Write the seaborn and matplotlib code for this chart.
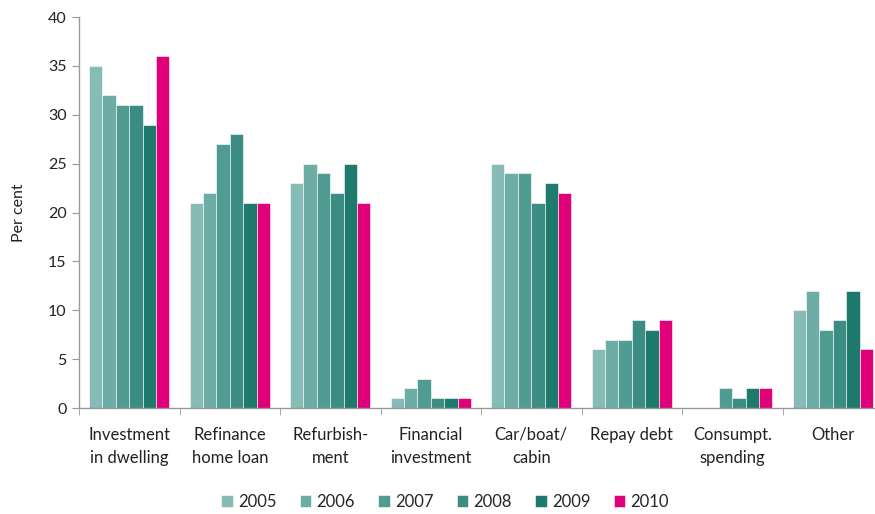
import matplotlib
matplotlib.use("Agg")
import matplotlib.pyplot as plt
import seaborn as sns
import pandas as pd
import numpy as np

categories = ["Investment\nin dwelling", "Refinance\nhome loan", "Refurbish-\nment",
              "Financial\ninvestment", "Car/boat/\ncabin", "Repay debt",
              "Consumpt.\nspending", "Other"]
years = ["2005", "2006", "2007", "2008", "2009", "2010"]
v2005 = [35, 21, 23, 1, 25, 6, 0, 10]
v2006 = [32, 22, 25, 2, 24, 7, 0, 12]
v2007 = [31, 27, 24, 3, 24, 7, 2, 8]
v2008 = [31, 28, 22, 1, 21, 9, 1, 9]
v2009 = [29, 21, 25, 1, 23, 8, 2, 12]
v2010 = [36, 21, 21, 1, 22, 9, 2, 6]
colors = ["#86bcb5", "#6eada5", "#509c93", "#3b8c83", "#1e7a6d", "#e0007a"]

series = [v2005, v2006, v2007, v2008, v2009, v2010]
rows = []
for y, vals in zip(years, series):
    for c, v in zip(categories, vals):
        rows.append({"category": c, "year": y, "value": v})
df = pd.DataFrame(rows)

sns.set_style("white")
plt.rcParams["font.family"] = ["Lato", "DejaVu Sans"]

fig = plt.figure(figsize=(8.75, 5.14), dpi=100)
ax = fig.add_axes([79/875, 106/514, 804/875, 391/514])
sns.barplot(data=df, x="category", y="value", hue="year", order=categories,
            hue_order=years, palette=colors, width=0.8, gap=0, saturation=1,
            edgecolor="#ffffff", linewidth=0.4, ax=ax, legend=True)

ax.set_xlim(-0.5, 7.5)
ax.set_ylim(0, 40)
ax.set_yticks(range(0, 41, 5))
ax.set_xlabel("")
ax.set_ylabel("Per cent", fontsize=11.5, color="#222222")
ax.yaxis.set_label_coords(-0.066, 0.5)
for s in ["top", "right"]:
    ax.spines[s].set_visible(False)
for s in ["left", "bottom"]:
    ax.spines[s].set_color("#999999")
    ax.spines[s].set_linewidth(1)
ax.tick_params(axis="y", which="major", left=True, length=5, color="#999999",
               labelsize=11.5, labelcolor="#222222", pad=4)
ax.tick_params(axis="x", which="major", bottom=False, labelsize=12, labelcolor="#222222", pad=10)
for t in ax.get_xticklabels():
    t.set_linespacing(1.55)
ax.set_xticks(np.arange(-0.5, 8.0, 1.0), minor=True)
ax.tick_params(axis="x", which="minor", bottom=True, length=5, color="#999999")

handles, labels = ax.get_legend_handles_labels()
ax.get_legend().remove()
fig.legend(handles, labels, loc="center", bbox_to_anchor=(445/875, 1 - 502/514),
           ncol=6, frameon=False, fontsize=12, handlelength=0.7, handleheight=0.7,
           handletextpad=0.3, columnspacing=1.4)

fig.savefig("out.png", dpi=100)
